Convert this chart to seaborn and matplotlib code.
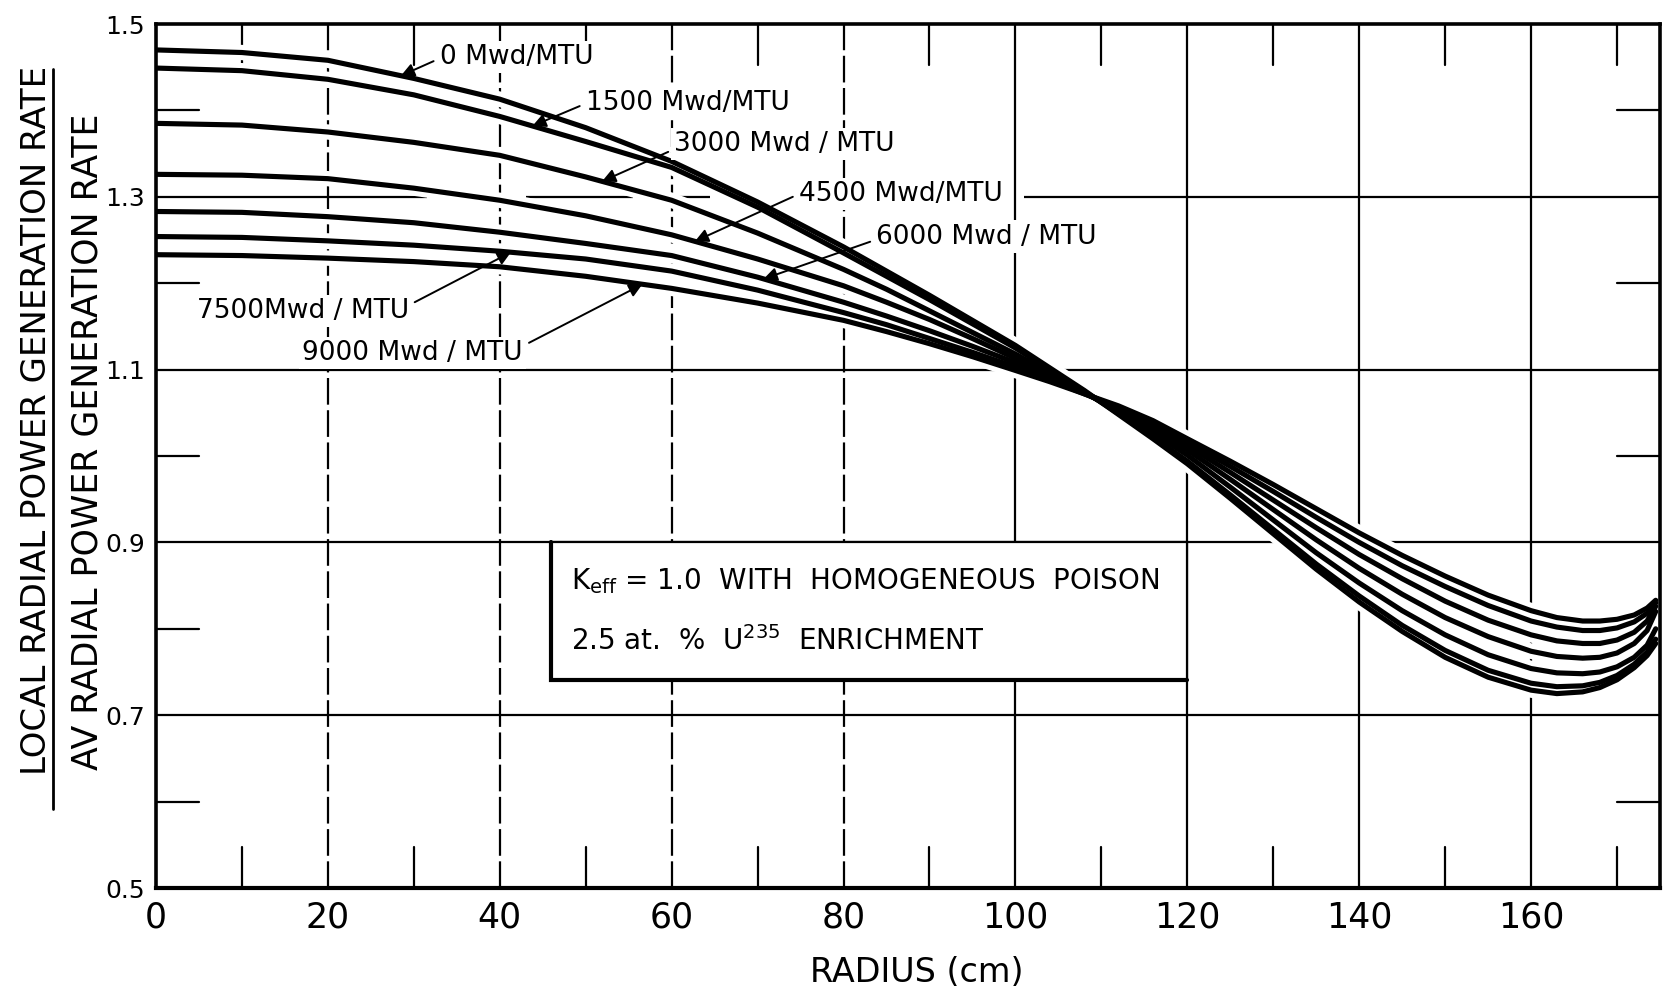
import numpy as np
import pandas as pd
import matplotlib
matplotlib.use("Agg")
import matplotlib.pyplot as plt
from matplotlib.lines import Line2D
from matplotlib.patches import Rectangle
import seaborn as sns

# ---------------------------------------------------------------- data
radius_cm = [0, 10, 20, 30, 40, 50, 60, 70, 80, 85, 90, 95, 100, 104, 108, 112, 116,
             120, 125, 130, 135, 140, 145, 150, 155, 160, 163, 166, 168, 170, 172,
             173.5, 174.5]

burnup_labels = ["0 Mwd/MTU", "1500 Mwd/MTU", "3000 Mwd / MTU", "4500 Mwd/MTU",
                 "6000 Mwd / MTU", "7500Mwd / MTU", "9000 Mwd / MTU"]

ratio_0 = [1.470, 1.467, 1.458, 1.437, 1.413, 1.380, 1.341, 1.294, 1.242, 1.214,
           1.186, 1.157, 1.128, 1.102, 1.076, 1.048, 1.020, 0.991, 0.951, 0.910,
           0.869, 0.831, 0.797, 0.767, 0.744, 0.729, 0.725, 0.727, 0.732, 0.741,
           0.755, 0.769, 0.783]
ratio_1500 = [1.449, 1.446, 1.436, 1.418, 1.393, 1.364, 1.334, 1.288, 1.235, 1.208,
              1.181, 1.153, 1.125, 1.100, 1.075, 1.049, 1.022, 0.994, 0.955, 0.915,
              0.875, 0.838, 0.804, 0.775, 0.752, 0.737, 0.733, 0.734, 0.738, 0.746,
              0.759, 0.773, 0.788]
ratio_3000 = [1.385, 1.383, 1.375, 1.363, 1.348, 1.323, 1.296, 1.258, 1.216, 1.193,
              1.168, 1.143, 1.118, 1.096, 1.074, 1.051, 1.027, 1.001, 0.964, 0.926,
              0.888, 0.853, 0.821, 0.793, 0.770, 0.754, 0.749, 0.748, 0.750, 0.756,
              0.767, 0.781, 0.800]
ratio_4500 = [1.326, 1.325, 1.321, 1.310, 1.296, 1.278, 1.256, 1.228, 1.197, 1.178,
              1.158, 1.136, 1.113, 1.093, 1.073, 1.053, 1.031, 1.007, 0.973, 0.938,
              0.903, 0.870, 0.840, 0.813, 0.791, 0.774, 0.768, 0.766, 0.767, 0.772,
              0.783, 0.798, 0.820]
ratio_6000 = [1.283, 1.282, 1.277, 1.270, 1.259, 1.246, 1.232, 1.207, 1.178, 1.162,
              1.145, 1.127, 1.108, 1.091, 1.073, 1.055, 1.035, 1.012, 0.981, 0.949,
              0.917, 0.886, 0.858, 0.832, 0.810, 0.793, 0.786, 0.783, 0.783, 0.787,
              0.796, 0.809, 0.826]
ratio_7500 = [1.254, 1.253, 1.249, 1.244, 1.237, 1.228, 1.214, 1.192, 1.166, 1.152,
              1.136, 1.120, 1.103, 1.088, 1.072, 1.056, 1.038, 1.016, 0.988, 0.959,
              0.929, 0.900, 0.873, 0.849, 0.827, 0.809, 0.802, 0.798, 0.798, 0.801,
              0.808, 0.818, 0.830]
ratio_9000 = [1.233, 1.232, 1.229, 1.225, 1.219, 1.208, 1.194, 1.177, 1.157, 1.144,
              1.130, 1.115, 1.099, 1.086, 1.072, 1.058, 1.041, 1.020, 0.994, 0.967,
              0.939, 0.911, 0.885, 0.861, 0.839, 0.821, 0.813, 0.809, 0.809, 0.811,
              0.816, 0.824, 0.833]

# radius at which each label's arrow touches its curve
arrow_radius = [28.5, 43.8, 51.9, 62.7, 70.7, 41.3, 56.6]

x_ticks = [0, 20, 40, 60, 80, 100, 120, 140, 160]
y_ticks = [0.5, 0.7, 0.9, 1.1, 1.3, 1.5]

series = [ratio_0, ratio_1500, ratio_3000, ratio_4500, ratio_6000, ratio_7500, ratio_9000]
df = pd.concat(
    [pd.DataFrame({"radius": radius_cm, "ratio": vals, "burnup": lab})
     for lab, vals in zip(burnup_labels, series)],
    ignore_index=True,
)

# ---------------------------------------------------------------- style
sns.set_style("white")
plt.rcParams["font.family"] = ["DejaVu Sans"]
NARROW = ["Liberation Sans Narrow", "DejaVu Sans"]
INK = "black"

W, H = 1669, 992
fig = plt.figure(figsize=(W / 100, H / 100), dpi=100)
ax = fig.add_axes([156 / W, 1 - 888 / H, (1660 - 156) / W, (888 - 24) / H])
ax.set_xlim(0, 175)
ax.set_ylim(0.5, 1.5)

for s in ax.spines.values():
    s.set_linewidth(2.6)
    s.set_color(INK)
ax.spines["bottom"].set_linewidth(3.0)

# ---------------------------------------------------------------- grid
GRID_LW = 1.6
for gx in x_ticks[1:]:
    ls = (0, (12, 2.5)) if gx <= 80 else "-"
    ax.axvline(gx, color=INK, lw=GRID_LW, ls=ls, zorder=1)

for gy in [1.1, 0.9, 0.7]:
    ax.axhline(gy, color=INK, lw=GRID_LW, zorder=1)

# the 1.3 rule is interrupted by the lettering
for x0, x1 in [(0, 31.5), (43, 55.5), (60, 64.5), (101, 175)]:
    ax.plot([x0, x1], [1.3, 1.3], color=INK, lw=GRID_LW, zorder=1, solid_capstyle="butt")

# short index marks along the frame
TICK_X = 0.047
TICK_R = 5.0
for mx in range(10, 175, 20):
    ax.plot([mx, mx], [1.5, 1.5 - TICK_X], color=INK, lw=GRID_LW, zorder=1)
    ax.plot([mx, mx], [0.5, 0.5 + TICK_X], color=INK, lw=GRID_LW, zorder=1)
for my in [0.6, 0.8, 1.0, 1.2, 1.4]:
    ax.plot([0, TICK_R], [my, my], color=INK, lw=GRID_LW, zorder=1)
    ax.plot([175 - TICK_R, 175], [my, my], color=INK, lw=GRID_LW, zorder=1)

# ---------------------------------------------------------------- curves
order = burnup_labels
sns.lineplot(data=df, x="radius", y="ratio", hue="burnup", hue_order=order,
             palette=["white"] * 7, estimator=None, sort=False, legend=False,
             lw=11, zorder=2.5, ax=ax)
sns.lineplot(data=df, x="radius", y="ratio", hue="burnup", hue_order=order,
             palette=[INK] * 7, estimator=None, sort=False, legend=False,
             lw=3.7, zorder=3, ax=ax, solid_capstyle="round", solid_joinstyle="round")

# ---------------------------------------------------------------- labels with arrows
label_pos = [(33.0, 1.462, "left"), (50.0, 1.408, "left"), (60.3, 1.361, "left"),
             (74.8, 1.303, "left"), (83.8, 1.254, "left"), (29.4, 1.168, "right"),
             (42.7, 1.119, "right")]
arrow_start = [(32.3, 1.457), (49.3, 1.405), (59.6, 1.352), (74.1, 1.300),
               (83.1, 1.248), (30.1, 1.178), (43.4, 1.131)]

for lab, vals, r_tip, (tx, ty, ha), start in zip(burnup_labels, series, arrow_radius,
                                                   label_pos, arrow_start):
    tip = (r_tip, float(np.interp(r_tip, radius_cm, vals)))
    ax.annotate("", xy=tip, xytext=start, zorder=5,
                arrowprops=dict(arrowstyle="-|>", color=INK, lw=1.4,
                                mutation_scale=20, shrinkA=0, shrinkB=0))
    ax.text(tx, ty, lab, ha=ha, va="center", fontsize=19, color=INK, zorder=5,
            bbox=dict(boxstyle="square,pad=0.12", fc="white", ec="none"))

# ---------------------------------------------------------------- note box
box_r0, box_r1, box_v0, box_v1 = 46, 120, 0.741, 0.9
ax.add_patch(Rectangle((box_r0, box_v0), box_r1 - box_r0, box_v1 - box_v0,
                       fc="white", ec=INK, lw=1.6, zorder=4))
ax.plot([box_r0, box_r0, box_r1], [box_v1, box_v0, box_v0], color=INK, lw=3.0,
        zorder=4.1, solid_joinstyle="miter")
ax.text(48.3, 0.855, r"K$_{\mathregular{eff}}$ = 1.0  WITH  HOMOGENEOUS  POISON",
        fontsize=20, va="center", ha="left", color=INK, zorder=5)
ax.text(48.3, 0.786, r"2.5 at.  %  U$^{\mathregular{235}}$  ENRICHMENT",
        fontsize=20, va="center", ha="left", color=INK, zorder=5)

# ---------------------------------------------------------------- axes text
ax.set_xticks(x_ticks)
ax.set_xticklabels([str(v) for v in x_ticks], family=NARROW, fontsize=25)
ax.set_yticks(y_ticks)
ax.set_yticklabels([f"{v:.1f}" for v in y_ticks], fontsize=18)
ax.tick_params(axis="x", length=0, pad=9, colors=INK)
ax.tick_params(axis="y", length=0, pad=8, colors=INK)
ax.set_xlabel("")
ax.set_ylabel("")

fig.text(917 / W, 1 - 972 / H, "RADIUS (cm)", ha="center", va="center",
         fontsize=24, color=INK)

fig.text(37 / W, 1 - 420 / H, "LOCAL RADIAL POWER GENERATION RATE", rotation=90,
         ha="center", va="center", fontsize=24.5, color=INK)
fig.add_artist(Line2D([53 / W, 53 / W], [1 - 69 / H, 1 - 809 / H],
                      transform=fig.transFigure, color=INK, lw=2.0))
fig.text(87 / W, 1 - 442 / H, "AV RADIAL POWER GENERATION RATE", rotation=90,
         ha="center", va="center", fontsize=25, color=INK)

fig.savefig("out.png", dpi=100, facecolor="white")
